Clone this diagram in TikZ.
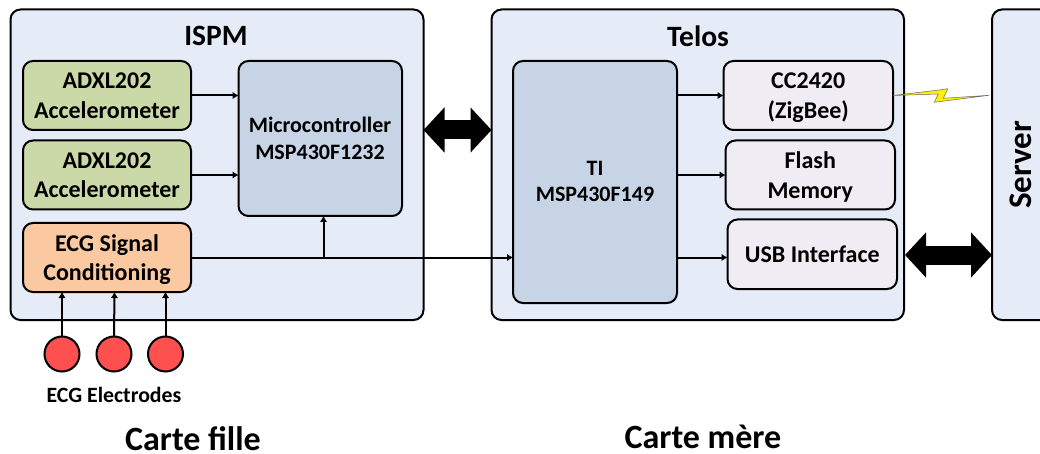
\documentclass[tikz,border=0pt]{standalone}
\usepackage{fontspec}
\setmainfont{Carlito}
\usetikzlibrary{arrows.meta,calc}
\definecolor{panel}{HTML}{E6ECF7}
\definecolor{sensor}{HTML}{CBD9A8}
\definecolor{ecgc}{HTML}{FAC9A1}
\definecolor{mcu}{HTML}{C7D4E5}
\definecolor{periph}{HTML}{EFEDF3}
\definecolor{elec}{HTML}{FF5050}
\tikzset{
  blk/.style={draw=black,line width=2pt,rounded corners=10pt,inner sep=0pt,outer sep=0pt,align=center,
    font=\bfseries\fontsize{24}{29.5}\selectfont},
  midtxt/.style={font=\bfseries\fontsize{22}{26.5}\selectfont},
  sized/.style n args={2}{minimum width=#1 pt,minimum height=#2 pt},
  link/.style={line width=2pt,-{Latex[length=6pt,width=7.5pt]}},
  bigarrow/.style={line width=19pt,{Triangle[length=21pt,width=44pt]}-{Triangle[length=21pt,width=44pt]}},
  titletxt/.style={inner sep=0pt,font=\bfseries\fontsize{29.5}{30}\selectfont},
  captxt/.style={inner sep=0pt,font=\bfseries\fontsize{34}{36}\selectfont},
  smalltxt/.style={inner sep=0pt,font=\bfseries\fontsize{21.8}{24}\selectfont},
  electrode/.style={circle,draw=black,fill=elec,line width=2pt,minimum size=35pt,inner sep=0pt,outer sep=0pt},
}
\begin{document}
\begin{tikzpicture}[x=1pt,y=-1pt]
\useasboundingbox (0,0) rectangle (1040,454);
\node[blk,fill=panel,sized={413}{310.5}] (ispm) at (217,164.75) {};
\node[blk,fill=panel,sized={412.5}{310.5}] (telos) at (697.75,164.75) {};
\node[blk,fill=panel,sized={68}{310.5}] (server) at (1026,164.75) {};
\node[titletxt] (ispmt) at (216,36) {ISPM};
\node[titletxt] (telost) at (698,36) {Telos};
\node[titletxt,rotate=90,font=\bfseries\fontsize{33}{36}\selectfont] (servert) at (1021,165) {Server};
\node[blk,fill=sensor,sized={168}{69}] (a1) at (107,95.5) {ADXL202\\Accelerometer};
\node[blk,fill=sensor,sized={168}{69}] (a2) at (107,175) {ADXL202\\Accelerometer};
\node[blk,fill=ecgc,sized={168}{69}] (ecg) at (107,257.5) {ECG Signal\\\smash{Conditioning}};
\node[blk,fill=mcu,sized={163.5}{155},midtxt] (micro) at (320.25,138.5) {};
\node[midtxt,align=center,inner sep=0pt] (microt) at (320,138.5) {Microcontroller\\MSP430F1232};
\node[blk,fill=mcu,sized={164}{242},midtxt] (ti) at (595,182) {};
\node[midtxt,align=center,inner sep=0pt] (tit) at (595,181.5) {TI\\MSP430F149};
\node[blk,fill=periph,sized={169.5}{69}] (cc) at (808.25,95.5) {CC2420\\\smash{(ZigBee)}};
\node[blk,fill=periph,sized={169.5}{69}] (flash) at (810.25,175) {Flash\\\smash{Memory}};
\node[blk,fill=periph,sized={169.5}{69.5}] (usb) at (812.25,254.25) {USB Interface};
\node[electrode] (e1) at (62,354) {};
\node[electrode] (e2) at (114,354) {};
\node[electrode] (e3) at (165.5,354) {};
\node[smalltxt] (elab) at (114,395) {ECG Electrodes};
\node[captxt] (c1) at (193,439) {Carte fille};
\node[captxt] (c2) at (703,437) {Carte mère};
\draw[link] (a1.east) -- (a1.east -| micro.west);
\draw[link] (a2.east) -- (a2.east -| micro.west);
\draw[link] (ecg.east) -- (ecg.east -| ti.west);
\coordinate (branch) at (323.5,257.5);
\draw[link] (branch) -- (branch |- micro.south);
\draw[link] (e1.north) -- (e1.north |- ecg.south);
\draw[link] (e2.north) -- ([xshift=.5pt]e2.north |- ecg.south);
\draw[link] (e3.north) -- (e3.north |- ecg.south);
\coordinate (tout1) at (ti.east |- cc.west);
\coordinate (tout2) at (ti.east |- flash.west);
\coordinate (tout3) at (ti.east |- ecg.east);
\draw[link] (tout1) -- (cc.west);
\draw[link] (tout2) -- (flash.west);
\draw[link] (tout3) -- (tout3 -| usb.west);
\draw[bigarrow] ([yshift=34.75pt]ispm.east) -- ([yshift=34.75pt]telos.west);
\coordinate (usbr) at (905,255);
\coordinate (srvl) at (992,255);
\draw[bigarrow] (usbr) -- (srvl);
\draw[draw=black!60,line width=.5pt,fill=yellow,line join=miter]
  (cc.east) -- (939.3,90) -- (947.7,88.7) -- (943.3,98.3) -- (989,95.3) -- (934.3,102.3) -- (938.3,94) -- cycle;
\end{tikzpicture}
\end{document}
